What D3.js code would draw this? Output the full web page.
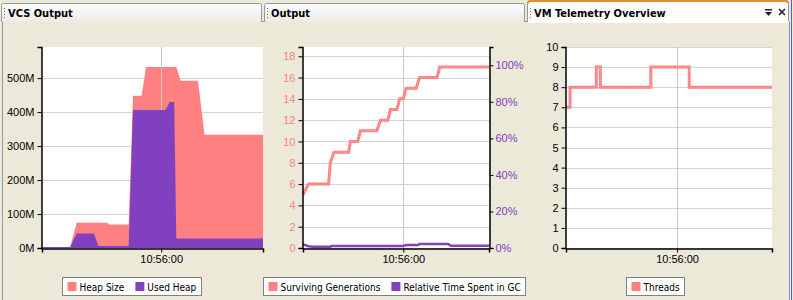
<!DOCTYPE html>
<html><head><meta charset="utf-8">
<script src="https://cdn.jsdelivr.net/npm/d3@7"></script>
<style>
html,body{margin:0;padding:0;background:#ece9d8;}
svg{display:block;font-family:"DejaVu Sans Condensed","DejaVu Sans","Liberation Sans",sans-serif;font-size:11px;}
</style></head><body>
<svg id="c" width="793" height="300"></svg>
<script>
// ---------- data ----------
const tabNames = ["VCS Output", "Output", "VM Telemetry Overview"];
const timeTickLabels = ["10:56:00"];
const timeStartSec = 5, timeEndSec = 107;      // seconds after 10:55:00

// Memory panel (MB), time in seconds after 10:55:00
const memSec   = [5, 18, 21, 29, 31, 35, 36, 45, 47, 51, 53, 62, 64, 66, 67, 69, 77, 80, 107];
const heapSize = [3, 3, 74, 74, 74, 74, 69, 69, 448, 448, 533, 533, 533, 533, 533, 492, 492, 333, 333];
const usedHeap = [3, 3, 43, 43, 6, 6, 6, 6, 406, 406, 406, 406, 430, 430, 28, 28, 28, 28, 28];
const memTicks = [0, 100, 200, 300, 400, 500];

// Generations panel
const gensSec  = [5, 8, 19, 20, 22, 30, 31, 35, 36.5, 45.5, 47.5, 51.5, 53, 56.5, 58, 60, 61.5, 67, 69, 78.5, 80, 107];
const survGens = [5, 6, 6, 8, 9, 9, 10, 10, 11, 11, 12, 12, 13, 13, 14, 14, 15, 15, 16, 16, 17, 17];
const gcSec    = [5, 8, 10.5, 20, 20.6, 60, 61.7, 68, 69, 84.5, 86, 107];
const gcPct    = [2.0, 1.0, 0.7, 0.7, 1.1, 1.1, 1.6, 1.6, 2.2, 2.2, 1.3, 1.3];
const gensTicks = [0, 2, 4, 6, 8, 10, 12, 14, 16, 18];
const pctTicks  = [0, 20, 40, 60, 80, 100];

// Threads panel
const threadSec = [5, 7, 20, 22, 47, 66, 107];
const threads   = [7, 8, 9, 8, 9, 8, 8];
const threadTicks = [0, 1, 2, 3, 4, 5, 6, 7, 8, 9, 10];

const legends = [["Heap Size", "Used Heap"], ["Surviving Generations", "Relative Time Spent in GC"], ["Threads"]];

// ---------- helpers ----------
const PINK = "#ff8080", PURPLE = "#8040c0";
const base = new Date(2000, 0, 1, 10, 55, 0);
const toDate = s => new Date(base.getTime() + s * 1000);
const parseTick = d3.timeParse("%H:%M:%S");
const tickDates = timeTickLabels.map(t => { const p = parseTick(t); return new Date(2000, 0, 1, p.getHours(), p.getMinutes(), p.getSeconds()); });

const svg = d3.select("#c");
const defs = svg.append("defs");
const g1 = defs.append("linearGradient").attr("id", "tabg").attr("x1", 0).attr("x2", 0).attr("y1", 0).attr("y2", 1);
g1.append("stop").attr("offset", "0%").attr("stop-color", "#fcfcfe");
g1.append("stop").attr("offset", "100%").attr("stop-color", "#ecebe6");

// ---------- window chrome ----------
svg.append("rect").attr("x", 0).attr("y", 0).attr("width", 793).attr("height", 300).attr("fill", "#ece9d8");
svg.append("rect").attr("x", 2.5).attr("y", 21.5).attr("width", 787).attr("height", 290).attr("fill", "#ece9d8").attr("stroke", "#919b9c");
svg.append("line").attr("x1", 791.5).attr("x2", 791.5).attr("y1", 0).attr("y2", 300).attr("stroke", "#3366ff").attr("stroke-width", 1);

const tabX = [[1, 262], [264, 525], [527, 789]];
tabX.forEach(([a, b], i) => {
  const active = i === 2;
  const top = active ? 1.5 : 3.5;
  const p = `M${a + .5},22 L${a + .5},${top + 2} Q${a + .5},${top} ${a + 2.5},${top} L${b - 2.5},${top} Q${b - .5},${top} ${b - .5},${top + 2} L${b - .5},22`;
  svg.append("path").attr("d", p).attr("fill", active ? "#fff" : "url(#tabg)").attr("stroke", "#919b9c");
  if (active) {
    svg.append("path").attr("d", `M${a + 1},${top + 2} Q${a + 1},${top - .5} ${a + 3},${top - .5} L${b - 3},${top - .5} Q${b - 1},${top - .5} ${b - 1},${top + 2}`)
      .attr("fill", "none").attr("stroke", "#e68b2c").attr("stroke-width", 2);
    svg.append("rect").attr("x", a + 1).attr("y", 21).attr("width", b - a - 1).attr("height", 2).attr("fill", "#fff");
  }
  for (let k = 0; k < 4; k++) {
    svg.append("rect").attr("x", a + 3).attr("y", 8 + k * 3).attr("width", 1).attr("height", 1).attr("fill", "#6f6f6f");
  }
  svg.append("text").attr("x", a + 7).attr("y", 17).attr("font-weight", "bold").attr("font-size", "11px")
    .attr("fill", "#000").text(tabNames[i]);
});
svg.append("rect").attr("x", 765).attr("y", 9).attr("width", 7).attr("height", 1.5).attr("fill", "#222");
svg.append("path").attr("d", "M765,12 L772,12 L768.5,16 Z").attr("fill", "#222");
svg.append("path").attr("d", "M779,9 L785,15 M785,9 L779,15").attr("stroke", "#222").attr("stroke-width", 1.6);

// ---------- panels ----------
const panels = [
  { x0: 42, x1: 263, region: [0, 263] },
  { x0: 303, x1: 489, region: [263, 526] },
  { x0: 566, x1: 772, region: [526, 785] }
];
const yTop = 47, yBot = 248;

function basePlot(p) {
  const x = d3.scaleTime().domain([toDate(timeStartSec), toDate(timeEndSec)]).range([p.x0, p.x1]);
  const g = svg.append("g");
  g.append("rect").attr("x", p.x0).attr("y", yTop).attr("width", p.x1 - p.x0).attr("height", yBot - yTop).attr("fill", "#fff");
  return { x, g };
}
function hGrid(g, y, ticks, p) {
  g.append("g").selectAll("line").data(ticks).join("line")
    .attr("x1", p.x0).attr("x2", p.x1).attr("y1", d => Math.round(y(d)) + .5).attr("y2", d => Math.round(y(d)) + .5)
    .attr("stroke", "#d4d4d4");
}
function vGrid(g, x) {
  g.append("g").selectAll("line").data(tickDates).join("line")
    .attr("x1", d => Math.round(x(d)) + .5).attr("x2", d => Math.round(x(d)) + .5).attr("y1", yTop).attr("y2", yBot)
    .attr("stroke", "#c8c8c8");
}
function xAxis(g, x) {
  const ax = g.append("g").attr("transform", `translate(0,${yBot + .5})`)
    .call(d3.axisBottom(x).tickValues(tickDates).tickFormat(d3.timeFormat("%H:%M:%S")).tickSizeOuter(0).tickSize(4).tickPadding(3));
  ax.select(".domain").attr("stroke", "#000").attr("stroke-width", 1.5);
  ax.selectAll("text").attr("fill", "#000").attr("font-size", "11px").attr("font-family", null);
}
function yAxisLeft(g, y, p, ticks, fmt, color) {
  const ax = g.append("g").attr("transform", `translate(${p.x0 - .5},0)`)
    .call(d3.axisLeft(y).tickValues(ticks).tickFormat(fmt).tickSizeOuter(0).tickSize(4).tickPadding(3));
  ax.select(".domain").attr("stroke", "#000").attr("stroke-width", 1.5);
  ax.selectAll(".tick line").attr("stroke", "#000");
  ax.selectAll("text").attr("fill", color).attr("font-size", "11px").attr("font-family", null);
}
function legend(p, items, colors) {
  const lg = svg.append("g");
  const fs = "10px";
  const tmp = items.map(t => { const tt = lg.append("text").attr("font-size", fs).text(t); const w = tt.node().getComputedTextLength(); tt.remove(); return w; });
  const padL = 5, padR = 5, sw = 9, gap = 3, sep = 11;
  const total = padL + padR + d3.sum(tmp, w => sw + gap + w) + sep * (items.length - 1);
  const cx = (p.region[0] + p.region[1]) / 2;
  const bx = Math.round(cx - total / 2) + .5, by = 277.5;
  lg.append("rect").attr("x", bx).attr("y", by).attr("width", Math.round(total)).attr("height", 18).attr("fill", "#fff").attr("stroke", "#808080");
  let cur = bx + padL;
  items.forEach((t, i) => {
    lg.append("rect").attr("x", cur).attr("y", by + 4.5).attr("width", sw).attr("height", sw).attr("fill", colors[i]);
    lg.append("text").attr("x", cur + sw + gap).attr("y", by + 13).attr("font-size", fs).attr("fill", "#000").text(t);
    cur += sw + gap + tmp[i] + sep;
  });
}

// Panel 1: memory
{
  const p = panels[0];
  const { x, g } = basePlot(p);
  const y = d3.scaleLinear().domain([0, d3.max(heapSize) * 1.11]).range([yBot, yTop]);
  hGrid(g, y, memTicks, p);
  const idx = d3.range(memSec.length);
  g.append("path").attr("fill", PINK)
    .attr("d", d3.area().x(i => x(toDate(memSec[i]))).y0(y(0)).y1(i => y(heapSize[i]))(idx));
  vGrid(g, x);
  g.append("path").attr("fill", PURPLE)
    .attr("d", d3.area().x(i => x(toDate(memSec[i]))).y0(y(0)).y1(i => y(usedHeap[i]))(idx));
  xAxis(g, x);
  yAxisLeft(g, y, p, memTicks, d => d + "M", "#000");
  legend(p, legends[0], [PINK, PURPLE]);
}

// Panel 2: generations + GC
{
  const p = panels[1];
  const { x, g } = basePlot(p);
  const y = d3.scaleLinear().domain([0, d3.max(survGens) * 1.11]).range([yBot, yTop]);
  const y2 = d3.scaleLinear().domain([0, 110]).range([yBot, yTop]);
  hGrid(g, y, gensTicks, p);
  vGrid(g, x);
  const gi = d3.range(gensSec.length);
  const gl = d3.line().x(i => x(toDate(gensSec[i]))).y(i => y(survGens[i]))(gi);
  g.append("path").attr("d", gl).attr("fill", "none").attr("stroke", PINK).attr("stroke-width", 3);
  g.append("path").attr("d", gl).attr("fill", "none").attr("stroke", "#ffb0b0").attr("stroke-width", 1).attr("stroke-dasharray", "1,2");
  const ci = d3.range(gcSec.length);
  g.append("path").attr("d", d3.line().x(i => x(toDate(gcSec[i]))).y(i => y2(gcPct[i]))(ci))
    .attr("fill", "none").attr("stroke", PURPLE).attr("stroke-width", 2.5);
  xAxis(g, x);
  yAxisLeft(g, y, p, gensTicks, d => d, PINK);
  const ax = g.append("g").attr("transform", `translate(${p.x1 + .5},0)`)
    .call(d3.axisRight(y2).tickValues(pctTicks).tickFormat(d => d + "%").tickSizeOuter(0).tickSize(4).tickPadding(2));
  ax.select(".domain").attr("stroke", "#000").attr("stroke-width", 1.5);
  ax.selectAll(".tick line").attr("stroke", "#000");
  ax.selectAll("text").attr("fill", PURPLE).attr("font-size", "11px").attr("font-family", null);
  legend(p, legends[1], [PINK, PURPLE]);
}

// Panel 3: threads
{
  const p = panels[2];
  const { x, g } = basePlot(p);
  const y = d3.scaleLinear().domain([0, 10]).range([yBot, yTop]);
  hGrid(g, y, threadTicks, p);
  vGrid(g, x);
  const ti = d3.range(threadSec.length);
  const tl = d3.line().curve(d3.curveStepAfter).x(i => x(toDate(threadSec[i]))).y(i => y(threads[i]))(ti);
  g.append("path").attr("d", tl).attr("fill", "none").attr("stroke", PINK).attr("stroke-width", 3);
  g.append("path").attr("d", tl).attr("fill", "none").attr("stroke", "#ffb0b0").attr("stroke-width", 1).attr("stroke-dasharray", "1,2");
  xAxis(g, x);
  yAxisLeft(g, y, p, threadTicks, d => d, "#000");
  legend(p, legends[2], [PINK]);
}
</script>
</body></html>
